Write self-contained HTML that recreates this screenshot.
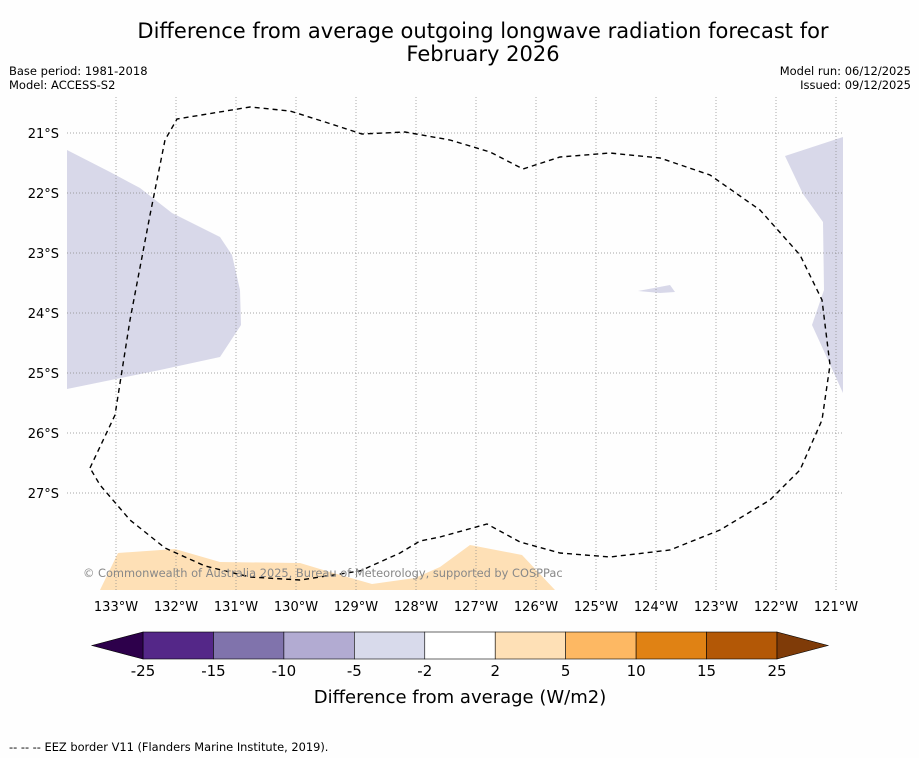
<!DOCTYPE html>
<html><head><meta charset="utf-8"><style>
body{margin:0;background:#fff;font-family:"Liberation Sans","DejaVu Sans",sans-serif;}
svg text{font-family:"DejaVu Sans","Liberation Sans",sans-serif;}
</style></head><body>
<svg id="c" width="919" height="758" xmlns="http://www.w3.org/2000/svg">
<rect width="919" height="758" fill="#fefefe"/>
<text x="483" y="38" font-size="21" text-anchor="middle">Difference from average outgoing longwave radiation forecast for</text>
<text x="483" y="61" font-size="21" text-anchor="middle">February 2026</text>
<text x="9" y="75" font-size="11.5">Base period: 1981-2018</text>
<text x="9" y="89" font-size="11.5">Model: ACCESS-S2</text>
<text x="911" y="75" font-size="11.5" text-anchor="end">Model run: 06/12/2025</text>
<text x="911" y="89" font-size="11.5" text-anchor="end">Issued: 09/12/2025</text>
<g>
<path fill="#d8d8e9" d="M67,150 L110,172 L140,188 L172,213 L220,237 L232,255 L240,290 L241,325 L220,357 L160,370 L67,389 Z"/>
<path fill="#d8d8e9" d="M785,156 L843,137 L843,393 L828,360 L812,325 L824,290 L823,222 L803,194 Z"/>
<path fill="#d8d8e9" d="M638,291 L670,285 L675,292 L660,293 Z"/>
<path fill="#fee0b6" d="M100,590 L118,553 L175,549 L220,562 L300,563 L330,572 L372,584 L415,578 L440,567 L470,545 L522,555 L555,590 Z"/>
</g>
<g id="grid"></g>
<g id="axes"></g>
<path fill="none" stroke="#000" stroke-width="1.4" stroke-dasharray="5,4" d="M90,468 L115,415 L130,320 L150,215 L165,140 L177,119 L250,107 L290,111 L325,122 L362,134 L405,132 L450,140 L490,152 L523,169 L560,157 L610,153 L660,158 L710,175 L760,210 L800,255 L822,300 L830,365 L822,420 L800,470 L770,500 L720,530 L670,550 L610,557 L560,553 L520,542 L487,524 L440,537 L420,541 L400,553 L360,571 L300,580 L250,577 L205,566 L165,548 L130,520 L100,485 Z"/>
<text x="83" y="577" font-size="11.4" fill="#888">© Commonwealth of Australia 2025, Bureau of Meteorology, supported by COSPPac</text>
<g id="cbar"></g>
<text x="460" y="703" font-size="18" text-anchor="middle">Difference from average (W/m2)</text>
<text x="9" y="751" font-size="11.4">--  --  -- EEZ border V11 (Flanders Marine Institute, 2019).</text>
</svg>
<script>
const lonTicks=[133,132,131,130,129,128,127,126,125,124,123,122,121];
const latTicks=[21,22,23,24,25,26,27];
const cbBounds=[-25,-15,-10,-5,-2,2,5,10,15,25];
const cbColors=["#542788","#8073ac","#b2abd2","#d8daeb","#ffffff","#fee0b6","#fdb863","#e08214","#b35806"];
const cbUnder="#2d004b", cbOver="#7f3b08";
const NS="http://www.w3.org/2000/svg";
const xLon=l=>116+(133-l)*60;
const yLat=l=>133+(l-21)*60;
function mk(t,a,p){const e=document.createElementNS(NS,t);for(const k in a)e.setAttribute(k,a[k]);p.appendChild(e);return e;}
const g=document.getElementById('grid'),ax=document.getElementById('axes');
lonTicks.forEach(l=>{
 const ln=mk('line',{x1:xLon(l),x2:xLon(l),y1:97,y2:590,stroke:'#888','stroke-width':0.7,'stroke-dasharray':'1,2'},g);
 
 
 const t=mk('text',{x:xLon(l),y:611,'font-size':13,'text-anchor':'middle'},ax);t.textContent=l+'°W';
 
 
});
latTicks.forEach(l=>{
 const ln=mk('line',{x1:67,x2:843,y1:yLat(l),y2:yLat(l),stroke:'#888','stroke-width':0.7,'stroke-dasharray':'1,2'},g);
 
 
 const t=mk('text',{x:59,y:yLat(l)+5,'font-size':13,'text-anchor':'end'},ax);t.textContent=l+'°S';
 
 
});
const cb=document.getElementById('cbar');
const x0=143,x1=777,y0=632,y1=659,n=cbColors.length,w=(x1-x0)/n;
const cx=i=>x0+i*w;
cbColors.forEach((c,i)=>{
 const r=mk('rect',{x:cx(i),y:y0,width:w,height:y1-y0,fill:c,stroke:'#000','stroke-width':0.6},cb);
 
 
});
const tl=mk('polygon',{points:`${x0},${y0} ${x0},${y1} 92,${(y0+y1)/2}`,fill:cbUnder,stroke:'#000','stroke-width':0.6},cb);


const tr=mk('polygon',{points:`${x1},${y0} ${x1},${y1} 828,${(y0+y1)/2}`,fill:cbOver,stroke:'#000','stroke-width':0.6},cb);


cbBounds.forEach((b,i)=>{
 const t=mk('text',{x:cx(i),y:676,'font-size':15,'text-anchor':'middle'},cb);t.textContent=b;
 
 
});
</script>
</body></html>
